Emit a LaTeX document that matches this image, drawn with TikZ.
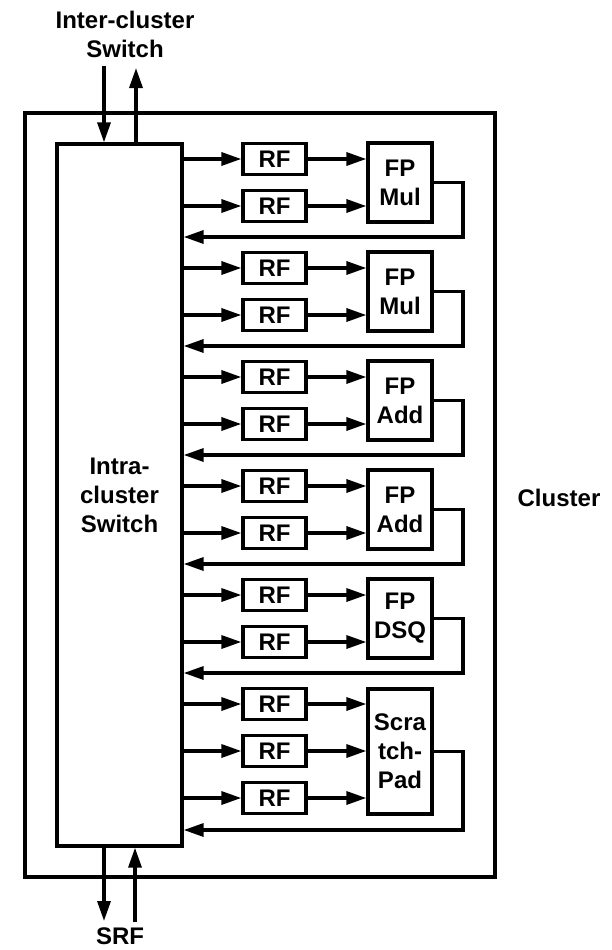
\documentclass[tikz,border=0pt]{standalone}
\usepackage{fontspec}
\setmainfont{Liberation Sans}
\usetikzlibrary{arrows.meta}

\begin{document}
\begin{tikzpicture}[
  x=1pt, y=-1pt,
  lbl/.style={font=\fontsize{24}{29}\selectfont\bfseries, inner sep=0pt,
    align=center},
  box/.style={lbl, rectangle, draw, line width=3.3pt},
  rf/.style={box, minimum width=63pt, minimum height=31pt},
  fu/.style={box, minimum width=64pt, minimum height=79pt},
  arr/.style={line width=3.3pt, -{Triangle[length=20pt,width=13pt]}},
]

% Page size
\useasboundingbox (0,0) rectangle (612,950);

% Group spacing
\def\grp{109}

% Cluster frame and intra-cluster switch
\node[box, minimum width=470pt, minimum height=764pt] (cluster) at (260,495) {};
\node[lbl] (clusterlbl) at (559,498) {Cluster};
\node[box, minimum width=125pt, minimum height=702pt] (sw) at (119.5,495)
    {Intra-\\cluster\\Switch};

% Inter-cluster switch ports
\node[lbl] (interlbl) at (125,34) {Inter-cluster\\Switch};
\coordinate (inport) at (104,66);
\coordinate (outport) at (136,68);
\draw[arr] (inport) -- (inport |- sw.north);
\draw[arr] (outport |- sw.north) -- (outport);

% SRF ports
\node[lbl, anchor=base] (srflbl) at (120,944) {SRF};
\coordinate (srfout) at (104,921);
\coordinate (srfin) at (135,922);
\draw[arr] (srfout |- sw.south) -- (srfout);
\draw[arr] (srfin) -- (srfin |- sw.south);

% Group 1: FP Mul
\node[rf] (rf1a) at (274.5, 159) {RF};
\node[rf] (rf1b) at (274.5, 206) {RF};
\node[fu] (fu1) at (400, 182.5) {FP\\Mul};
\coordinate (fb1) at (463, 237);
\draw[arr] (sw.east |- rf1a) -- (rf1a);
\draw[arr] (sw.east |- rf1b) -- (rf1b);
\draw[arr] (rf1a) -- (fu1.west |- rf1a);
\draw[arr] (rf1b) -- (fu1.west |- rf1b);
\draw[arr] (fu1.east) -| (fb1) -- (sw.east |- fb1);

% Group 2: FP Mul
\node[rf] (rf2a) at (274.5, 159+\grp) {RF};
\node[rf] (rf2b) at (274.5, 206+\grp) {RF};
\node[fu] (fu2) at (400, 182.5+\grp) {FP\\Mul};
\coordinate (fb2) at (463, 237+\grp);
\draw[arr] (sw.east |- rf2a) -- (rf2a);
\draw[arr] (sw.east |- rf2b) -- (rf2b);
\draw[arr] (rf2a) -- (fu2.west |- rf2a);
\draw[arr] (rf2b) -- (fu2.west |- rf2b);
\draw[arr] (fu2.east) -| (fb2) -- (sw.east |- fb2);

% Group 3: FP Add
\node[rf] (rf3a) at (274.5, 159+2*\grp) {RF};
\node[rf] (rf3b) at (274.5, 206+2*\grp) {RF};
\node[fu] (fu3) at (400, 182.5+2*\grp) {FP\\Add};
\coordinate (fb3) at (463, 237+2*\grp);
\draw[arr] (sw.east |- rf3a) -- (rf3a);
\draw[arr] (sw.east |- rf3b) -- (rf3b);
\draw[arr] (rf3a) -- (fu3.west |- rf3a);
\draw[arr] (rf3b) -- (fu3.west |- rf3b);
\draw[arr] (fu3.east) -| (fb3) -- (sw.east |- fb3);

% Group 4: FP Add
\node[rf] (rf4a) at (274.5, 159+3*\grp) {RF};
\node[rf] (rf4b) at (274.5, 206+3*\grp) {RF};
\node[fu] (fu4) at (400, 182.5+3*\grp) {FP\\Add};
\coordinate (fb4) at (463, 237+3*\grp);
\draw[arr] (sw.east |- rf4a) -- (rf4a);
\draw[arr] (sw.east |- rf4b) -- (rf4b);
\draw[arr] (rf4a) -- (fu4.west |- rf4a);
\draw[arr] (rf4b) -- (fu4.west |- rf4b);
\draw[arr] (fu4.east) -| (fb4) -- (sw.east |- fb4);

% Group 5: FP DSQ
\node[rf] (rf5a) at (274.5, 159+4*\grp) {RF};
\node[rf] (rf5b) at (274.5, 206+4*\grp) {RF};
\node[fu] (fu5) at (400, 182.5+4*\grp) {FP\\DSQ};
\coordinate (fb5) at (463, 237+4*\grp);
\draw[arr] (sw.east |- rf5a) -- (rf5a);
\draw[arr] (sw.east |- rf5b) -- (rf5b);
\draw[arr] (rf5a) -- (fu5.west |- rf5a);
\draw[arr] (rf5b) -- (fu5.west |- rf5b);
\draw[arr] (fu5.east) -| (fb5) -- (sw.east |- fb5);

% Group 6: ScratchPad
\node[rf] (rf6a) at (274.5, 704) {RF};
\node[rf] (rf6b) at (274.5, 751) {RF};
\node[rf] (rf6c) at (274.5, 798) {RF};
\node[fu, minimum height=125pt] (fu6) at (400, 751.5) {Scra\\tch-\\Pad};
\coordinate (fb6) at (463, 830);
\draw[arr] (sw.east |- rf6a) -- (rf6a);
\draw[arr] (sw.east |- rf6b) -- (rf6b);
\draw[arr] (sw.east |- rf6c) -- (rf6c);
\draw[arr] (rf6a) -- (fu6.west |- rf6a);
\draw[arr] (rf6b) -- (fu6.west |- rf6b);
\draw[arr] (rf6c) -- (fu6.west |- rf6c);
\draw[arr] (fu6.east) -| (fb6) -- (sw.east |- fb6);

\end{tikzpicture}
\end{document}
